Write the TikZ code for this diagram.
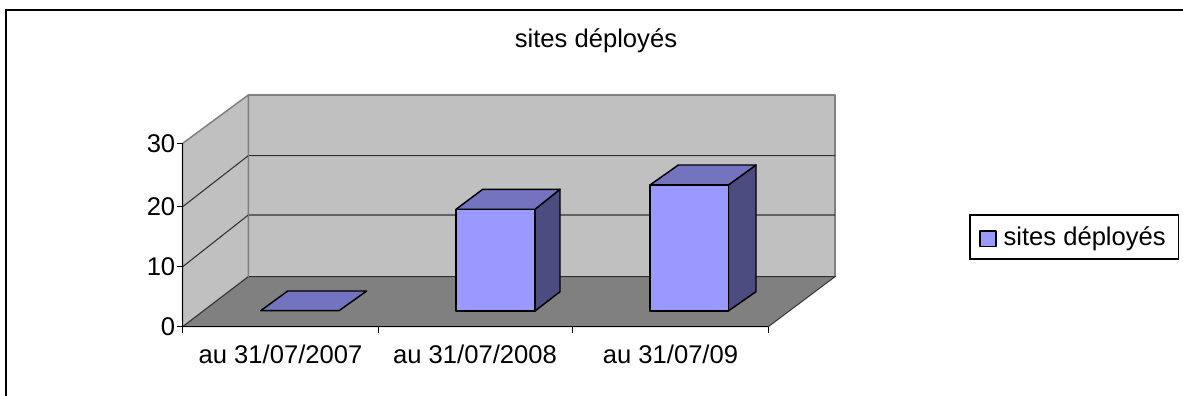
\documentclass[tikz,border=0pt]{standalone}
\usepackage{fontspec}
\setmainfont{Liberation Sans}
\definecolor{wallc}{HTML}{C0C0C0}
\definecolor{floorc}{HTML}{808080}
\definecolor{edgec}{HTML}{808080}
\definecolor{gridc}{HTML}{303030}
\definecolor{barfc}{HTML}{9999FF}
\definecolor{bartc}{HTML}{7373C0}
\definecolor{barsc}{HTML}{4C4C80}
\tikzset{
  wallsty/.style={fill=wallc, draw=edgec, line width=1.1pt, line join=round},
  floorsty/.style={fill=floorc, draw=gridc, line width=0.7pt},
  gridsty/.style={draw=gridc, line width=0.8pt},
  axissty/.style={draw=black, line width=0.9pt},
  barfront/.style={fill=barfc, draw=black, line width=1.1pt, line join=round},
  bartop/.style={fill=bartc, draw=black, line width=1.1pt, line join=round},
  barside/.style={fill=barsc, draw=black, line width=1.1pt, line join=round},
  lbl/.style={font=\fontsize{19.2}{23}\selectfont, inner sep=0pt},
}
\begin{document}
\begin{tikzpicture}[x=0.75pt,y=-0.75pt]
\useasboundingbox (0,0) rectangle (1183,396);
\fill[white] (0,0) rectangle (1183,396);
% outer frame (left and top visible)
\draw[black, line width=1.3pt] (6,396) -- (6,10) -- (1183,10);
% title
\node[lbl, anchor=base] (title) at (596,47.3) {sites déployés};
% walls and floor
\draw[wallsty] (248.3,95) rectangle (835,276.7);
\draw[wallsty] (182.7,143.3) -- (248.3,95) -- (248.3,276.7) -- (182.7,326.7) -- cycle;
\draw[floorsty] (182.7,326.7) -- (248.3,276.7) -- (835,276.7) -- (768.3,326.7) -- cycle;
% grid lines
\draw[gridsty] (182.7,266.7) -- (248.3,215) -- (835,215);
\draw[gridsty] (182.7,206.7) -- (248.3,155.7) -- (835,155.7);
\draw[edgec, line width=1.1pt] (248.3,95) -- (248.3,276.7);
% axes
\draw[axissty] (182.7,143.3) -- (182.7,326.7) -- (768.3,326.7);
\foreach \yy in {143.3,206.7,266.7,326.7} \draw[axissty] (177,\yy) -- (182.7,\yy);
\foreach \xx in {182.7,378.3,572.7,768.3} \draw[axissty] (\xx,326.7) -- (\xx,332.7);
% y labels
\node[lbl, anchor=east] (y30) at (175.5,143.3) {30};
\node[lbl, anchor=east] (y20) at (175.5,206.7) {20};
\node[lbl, anchor=east] (y10) at (175.5,266.7) {10};
\node[lbl, anchor=east] (y0) at (175.5,326.7) {0};
% x labels
\node[lbl, anchor=base] (c1) at (280.5,363.3) {au 31/07/2007};
\node[lbl, anchor=base] (c2) at (475,363.3) {au 31/07/2008};
\node[lbl, anchor=base] (c3) at (670.5,363.3) {au 31/07/09};
% bar 1 (flat)
\draw[bartop] (260.7,310.7) -- (339,310.7) -- (366.7,291) -- (287.7,291) -- cycle;
% bar 2
\draw[barside] (535,209.3) -- (560,189.3) -- (560,291.7) -- (535,311) -- cycle;
\draw[bartop] (456,209.3) -- (482.7,189.3) -- (560,189.3) -- (535,209.3) -- cycle;
\draw[barfront] (456,209.3) rectangle (535,311);
% bar 3
\draw[barside] (728.3,185) -- (756,165) -- (756,291.7) -- (728.3,311) -- cycle;
\draw[bartop] (650,185) -- (678.3,165) -- (756,165) -- (728.3,185) -- cycle;
\draw[barfront] (650,185) rectangle (728.3,311);
% legend
\draw[draw=black, line width=0.8pt, fill=white] (970,215) rectangle (1178.3,259);
\draw[barfront, line width=0.9pt] (980,231) rectangle (996,246.7);
\node[lbl, anchor=base west] (leg) at (1003.3,245) {sites déployés};
\end{tikzpicture}
\end{document}
